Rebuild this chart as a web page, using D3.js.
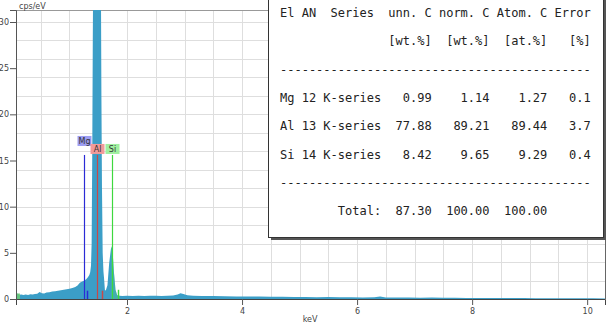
<!DOCTYPE html>
<html>
<head>
<meta charset="utf-8">
<script src="https://cdn.jsdelivr.net/npm/d3@7"></script>
<style>
  body { margin: 0; background: #fff; }
  svg { display: block; }
</style>
</head>
<body>
<div class="main"></div>
<script>
// Spectrum (keV, cps/eV)
const energy = [0.07, 0.10, 0.13, 0.16, 0.20, 0.24, 0.28, 0.32, 0.36, 0.40, 0.44, 0.48, 0.52, 0.56, 0.60,
  0.65, 0.70, 0.75, 0.80, 0.85, 0.90, 0.95, 1.00, 1.05, 1.10, 1.14, 1.18, 1.22, 1.26, 1.29, 1.32, 1.345,
  1.36, 1.374, 1.385, 1.395, 1.405, 1.415, 1.45, 1.49, 1.53, 1.545, 1.555, 1.565, 1.577, 1.59, 1.60,
  1.617, 1.635, 1.66, 1.69, 1.72, 1.73, 1.75, 1.774, 1.80, 1.83, 1.87, 1.92, 2.0, 2.1, 2.2, 2.3, 2.4,
  2.5, 2.6, 2.7, 2.8, 2.88, 2.93, 2.98, 3.05, 3.15, 3.3, 3.5, 3.7, 3.9, 4.1, 4.3, 4.5, 4.7, 4.9, 5.1,
  5.3, 5.5, 5.7, 5.9, 6.1, 6.3, 6.4, 6.5, 6.7, 6.9, 7.1, 7.3, 7.5, 7.7, 7.9, 8.1, 8.3, 8.5, 8.7, 8.9,
  9.1, 9.3, 9.5, 9.7, 9.9, 10.1, 10.31]
const counts = [0.45, 0.6, 0.45, 0.5, 0.42, 0.5, 0.44, 0.52, 0.48, 0.55, 0.58, 0.75, 0.62, 0.6, 0.7,
  0.74, 0.8, 0.84, 0.9, 0.95, 1.0, 1.05, 1.1, 1.2, 1.3, 1.45, 1.75, 1.9, 2.0, 2.15, 2.35, 2.6,
  2.9, 3.6, 6, 15, 28, 38, 45, 46, 44, 36, 22, 12, 5, 3, 2.3,
  0.9, 1.0, 1.5, 3.9, 5.4, 5.7, 5.1, 2.8, 1.0, 0.4, 0.35, 0.33, 0.36, 0.32, 0.35, 0.33, 0.34,
  0.35, 0.32, 0.34, 0.38, 0.5, 0.62, 0.55, 0.4, 0.35, 0.33, 0.32, 0.3, 0.28, 0.26, 0.27, 0.24, 0.25, 0.22, 0.23,
  0.2, 0.21, 0.19, 0.2, 0.17, 0.19, 0.26, 0.17, 0.15, 0.16, 0.14, 0.15, 0.13, 0.13, 0.12, 0.12, 0.11, 0.11, 0.1, 0.1,
  0.09, 0.09, 0.08, 0.08, 0.07, 0.07, 0.06]

// Element lines (K-alpha), their K-beta markers and colours
const elements = ["Mg", "Al", "Si"]
const lineEnergy = [1.254, 1.486, 1.740]
const lineHeight = [15.6, 15.6, 15.6]
const kbEnergy = [1.302, 1.557, 1.836]
const kbHeight = [0.9, 0.9, 1.0]
const lineColor = ["#2b2bd6", "#c84848", "#3ed83e"]
const labelFill = ["#9d9df2", "#f29a9a", "#a0f0a0"]

// Quantification table
const atomicNo = [12, 13, 14]
const unnC = ["0.99", "77.88", "8.42"]
const normC = ["1.14", "89.21", "9.65"]
const atomC = ["1.27", "89.44", "9.29"]
const errC = ["0.1", "3.7", "0.4"]
const totals = ["87.30", "100.00", "100.00"]

const yTicks = [0, 5, 10, 15, 20, 25, 30]
const xTicks = [2, 4, 6, 8, 10]

const width = 608, height = 323
const margin = ({top: 10, right: 3, bottom: 24, left: 16})

const svg = d3.select(".main").append("svg")
  .attr("width", width)
  .attr("height", height)
  .attr("viewBox", [0, 0, width, height])

const x = d3.scaleLinear()
  .domain([0.07, 10.31])
  .range([margin.left, width - margin.right])

const y = d3.scaleLinear()
  .domain([0, 31.3])
  .range([height - margin.bottom, margin.top])

svg.append("clipPath").attr("id", "plot")
  .append("rect")
  .attr("x", margin.left).attr("y", margin.top)
  .attr("width", width - margin.left - margin.right)
  .attr("height", height - margin.top - margin.bottom)

// Grid
const grid = svg.append("g").attr("stroke", "#dedede").attr("stroke-width", 1)
grid.selectAll("line.v")
  .data(d3.range(0.5, 10.31, 0.5))
  .join("line")
    .attr("class", "v")
    .attr("x1", d => Math.round(x(d)) + 0.5).attr("x2", d => Math.round(x(d)) + 0.5)
    .attr("y1", margin.top).attr("y2", height - margin.bottom)
grid.selectAll("line.h")
  .data(d3.range(2, 31.3, 2))
  .join("line")
    .attr("class", "h")
    .attr("y1", d => Math.round(y(d)) + 0.5).attr("y2", d => Math.round(y(d)) + 0.5)
    .attr("x1", margin.left).attr("x2", width - margin.right)

// top frame
svg.append("line")
  .attr("x1", margin.left).attr("x2", width - margin.right)
  .attr("y1", margin.top + 0.5).attr("y2", margin.top + 0.5)
  .attr("stroke", "#999")
svg.append("line")
  .attr("x1", width - margin.right + 0.5).attr("x2", width - margin.right + 0.5)
  .attr("y1", margin.top).attr("y2", height - margin.bottom)
  .attr("stroke", "#666")

// Spectrum
const spectrum = energy.map((e, i) => ({e: e, c: counts[i]}))
const area = d3.area()
  .x(d => x(d.e))
  .y0(y(0))
  .y1(d => y(d.c))

svg.append("path")
  .datum(spectrum)
  .attr("clip-path", "url(#plot)")
  .attr("fill", "#3b9ec7")
  .attr("d", area)

// green tint on the Si peak
svg.append("path")
  .datum(spectrum.filter(d => d.e >= 1.72 && d.e <= 1.87))
  .attr("clip-path", "url(#plot)")
  .attr("fill", "#55d27a")
  .attr("opacity", 0.3)
  .attr("d", area)

// marker at the zero end
svg.append("line")
  .attr("x1", x(0.07) + 0.5).attr("x2", x(0.07) + 0.5)
  .attr("y1", y(0)).attr("y2", y(15.6))
  .attr("stroke", "#5fcf5f")
svg.append("rect")
  .attr("x", x(0.07)).attr("y", y(0.6))
  .attr("width", 4).attr("height", y(0) - y(0.6))
  .attr("fill", "#6fcf6f").attr("opacity", 0.8)

// Element lines
const lines = svg.append("g")
lines.selectAll("line.ka")
  .data(elements)
  .join("line")
    .attr("class", "ka")
    .attr("x1", (d, i) => Math.round(x(lineEnergy[i])) + 0.5)
    .attr("x2", (d, i) => Math.round(x(lineEnergy[i])) + 0.5)
    .attr("y1", y(0))
    .attr("y2", (d, i) => y(lineHeight[i]))
    .attr("stroke", (d, i) => lineColor[i])
    .attr("stroke-width", 1.2)
lines.selectAll("line.kb")
  .data(elements)
  .join("line")
    .attr("class", "kb")
    .attr("x1", (d, i) => Math.round(x(kbEnergy[i])) + 0.5)
    .attr("x2", (d, i) => Math.round(x(kbEnergy[i])) + 0.5)
    .attr("y1", y(0))
    .attr("y2", (d, i) => y(kbHeight[i]))
    .attr("stroke", (d, i) => lineColor[i])
    .attr("stroke-width", 1.5)

// labels, stacked upward when they would overlap the one to the right
const boxW = d => d.length * 5 + 4, boxH = 10
let tier = elements.map(() => 0)
for (let i = elements.length - 2; i >= 0; i--) {
  const right = x(lineEnergy[i]) + boxW(elements[i]) / 2
  const nextLeft = x(lineEnergy[i + 1]) - boxW(elements[i + 1]) / 2
  if (right > nextLeft && tier[i] == tier[i + 1]) tier[i] = tier[i + 1] + 1
}
const labels = svg.append("g")
  .selectAll("g")
  .data(elements)
  .join("g")
    .attr("transform", (d, i) => `translate(${Math.round(x(lineEnergy[i])) + 0.5}, ${y(lineHeight[i]) - 1 - tier[i] * 8})`)
labels.append("rect")
  .attr("x", d => -boxW(d) / 2)
  .attr("y", -boxH)
  .attr("width", d => boxW(d))
  .attr("height", boxH)
  .attr("fill", (d, i) => labelFill[i])
labels.append("text")
  .text(d => d)
  .attr("y", -2)
  .attr("text-anchor", "middle")
  .attr("font-family", "DejaVu Sans")
  .attr("font-size", 8)
  .attr("fill", "#333")

// Axes
const yAxis = svg.append("g")
  .attr("transform", `translate(${margin.left}, 0)`)
yAxis.call(d3.axisLeft(y).tickValues(d3.range(0, 31.3, 1)).tickSize(3).tickFormat(""))
yAxis.call(d3.axisLeft(y).tickValues(yTicks).tickSize(6).tickPadding(1))
yAxis.selectAll("path").attr("stroke", "#555")
yAxis.selectAll("line").attr("stroke", "#555")
yAxis.selectAll("text").attr("font-family", "DejaVu Sans").attr("font-size", 8).attr("fill", "#444")

const xAxis = svg.append("g")
  .attr("transform", `translate(0, ${height - margin.bottom})`)
xAxis.call(d3.axisBottom(x).tickValues(d3.range(0.5, 10.31, 0.5)).tickSize(4).tickFormat(""))
xAxis.call(d3.axisBottom(x).tickValues(xTicks).tickSize(6).tickPadding(3))
xAxis.selectAll("path").attr("stroke", "#444")
xAxis.selectAll("line").attr("stroke", "#555")
xAxis.selectAll("text").attr("font-family", "DejaVu Sans").attr("font-size", 8).attr("fill", "#444")

svg.append("text")
  .text("cps/eV")
  .attr("x", 19).attr("y", 9)
  .attr("font-family", "DejaVu Sans")
  .attr("font-size", 8)
  .attr("fill", "#444")

svg.append("text")
  .text("keV")
  .attr("x", 310).attr("y", 322)
  .attr("text-anchor", "middle")
  .attr("font-family", "DejaVu Sans")
  .attr("font-size", 8)
  .attr("fill", "#444")

// Result table
const box = svg.append("g")
box.append("rect")
  .attr("x", 271).attr("y", -4)
  .attr("width", 335).attr("height", 244)
  .attr("fill", "#555")
box.append("rect")
  .attr("x", 268.5).attr("y", -5.5)
  .attr("width", 335).attr("height", 243)
  .attr("fill", "#fff")
  .attr("stroke", "#333")

const rows = [
  "El AN  Series  " + "unn. C" + " norm. C" + " Atom. C" + " Error",
  " ".repeat(15) + "[wt.%]".padStart(6) + "[wt.%]".padStart(8) + "[at.%]".padStart(8) + "[%]".padStart(6),
  "-".repeat(43)
]
elements.forEach((el, i) => {
  rows.push((el + " " + atomicNo[i] + " K-series").padEnd(15) + unnC[i].padStart(6) +
    normC[i].padStart(8) + atomC[i].padStart(8) + errC[i].padStart(6))
})
rows.push("-".repeat(43))
rows.push("Total:".padStart(14) + " " + totals[0].padStart(6) + totals[1].padStart(8) + totals[2].padStart(8))

box.selectAll("text")
  .data(rows)
  .join("text")
    .text(d => d)
    .attr("x", 280)
    .attr("y", (d, i) => 17 + i * 28.3)
    .attr("font-family", "DejaVu Sans Mono")
    .attr("font-size", 12)
    .attr("fill", "#222")
    .style("white-space", "pre")
</script>
</body>
</html>
